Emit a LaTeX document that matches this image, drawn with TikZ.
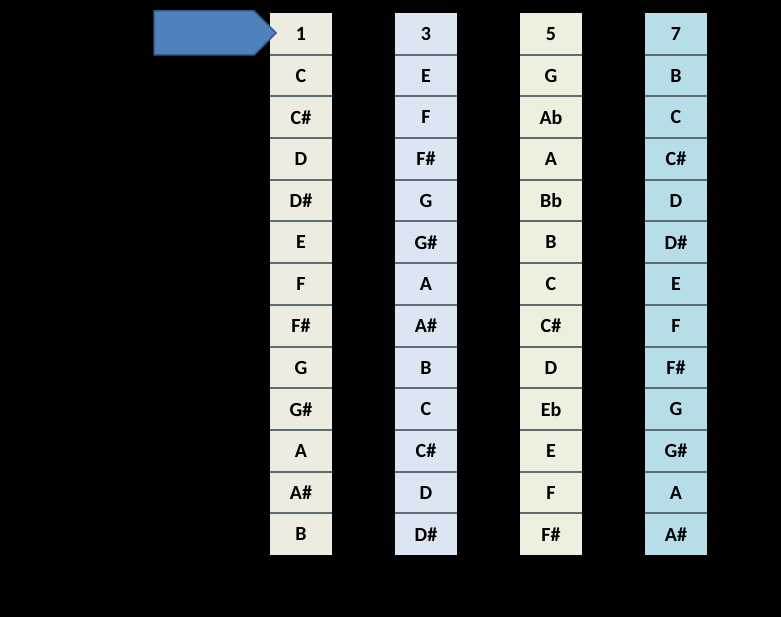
\documentclass[tikz,border=0pt]{standalone}
\usepackage{fontspec}
\setmainfont{Carlito}
\usetikzlibrary{shapes.arrows}
\definecolor{cA}{HTML}{EEECE1}
\definecolor{cB}{HTML}{DCE6F2}
\definecolor{cC}{HTML}{EBF1DE}
\definecolor{cD}{HTML}{B7DEE8}
\definecolor{sep}{HTML}{5F6B73}
\definecolor{arr}{HTML}{4F81BD}
\definecolor{arrb}{HTML}{385D8A}
\tikzset{cell/.style={minimum width=62pt,minimum height=41.7pt,inner sep=0pt,font=\fontsize{20}{22}\selectfont\bfseries,text=black}}
\begin{document}
\begin{tikzpicture}[x=1pt,y=-1pt]
\fill[black] (0,0) rectangle (781,617);
\useasboundingbox (0,0) rectangle (781,617);
\def\rows{{"1","2","3","4","5","6","7","8"},{"C","D","E","F","G","A","B","C"},{"C\#","D\#","F","Gb","Ab","Bb","C","C\#"},{"D","E","F\#","G","A","B","C\#","D"},{"D\#","F","G","Ab","Bb","C","D","D\#"},{"E","F\#","G\#","A","B","C\#","D\#","E"},{"F","G","A","Bb","C","D","E","F"},{"F\#","G\#","A\#","B","C\#","D\#","F","F\#"},{"G","A","B","C","D","E","F\#","G"},{"G\#","A\#","C","Db","Eb","F","G","G\#"},{"A","B","C\#","D","E","F\#","G\#","A"},{"A\#","C","D","Eb","F","G","A","A\#"},{"B","C\#","D\#","E","F\#","G\#","A\#","B"}}
\foreach \c/\col in {0/cA,2/cB,4/cC,6/cD}{
  \fill[\col] ({270+62.5*\c},13) rectangle ({332+62.5*\c},555);
  \foreach \r in {1,...,12}
    \draw[sep,line width=2pt] ({270+62.5*\c},{13+41.7*\r}) -- ({332+62.5*\c},{13+41.7*\r});
}
\node[cell] (h1) at (301,34) {1};
\node[cell] (h2) at (363.5,34) {2};
\node[cell] (h3) at (426,34) {3};
\node[cell] (h4) at (488.5,34) {4};
\node[cell] (h5) at (551,34) {5};
\node[cell] (h6) at (613.5,34) {6};
\node[cell] (h7) at (676,34) {7};
\node[cell] (h8) at (738.5,34) {8};
\newcommand{\nt}[3]{\node[cell] (n#1-#2) at ({301+62.5*(#2-1)},{34+41.7*#1}) {#3};}
\nt{1}{1}{C}\nt{1}{2}{D}\nt{1}{3}{E}\nt{1}{4}{F}\nt{1}{5}{G}\nt{1}{6}{A}\nt{1}{7}{B}\nt{1}{8}{C}
\nt{2}{1}{C\#}\nt{2}{2}{D\#}\nt{2}{3}{F}\nt{2}{4}{Gb}\nt{2}{5}{Ab}\nt{2}{6}{Bb}\nt{2}{7}{C}\nt{2}{8}{C\#}
\nt{3}{1}{D}\nt{3}{2}{E}\nt{3}{3}{F\#}\nt{3}{4}{G}\nt{3}{5}{A}\nt{3}{6}{B}\nt{3}{7}{C\#}\nt{3}{8}{D}
\nt{4}{1}{D\#}\nt{4}{2}{F}\nt{4}{3}{G}\nt{4}{4}{Ab}\nt{4}{5}{Bb}\nt{4}{6}{C}\nt{4}{7}{D}\nt{4}{8}{D\#}
\nt{5}{1}{E}\nt{5}{2}{F\#}\nt{5}{3}{G\#}\nt{5}{4}{A}\nt{5}{5}{B}\nt{5}{6}{C\#}\nt{5}{7}{D\#}\nt{5}{8}{E}
\nt{6}{1}{F}\nt{6}{2}{G}\nt{6}{3}{A}\nt{6}{4}{Bb}\nt{6}{5}{C}\nt{6}{6}{D}\nt{6}{7}{E}\nt{6}{8}{F}
\nt{7}{1}{F\#}\nt{7}{2}{G\#}\nt{7}{3}{A\#}\nt{7}{4}{B}\nt{7}{5}{C\#}\nt{7}{6}{D\#}\nt{7}{7}{F}\nt{7}{8}{F\#}
\nt{8}{1}{G}\nt{8}{2}{A}\nt{8}{3}{B}\nt{8}{4}{C}\nt{8}{5}{D}\nt{8}{6}{E}\nt{8}{7}{F\#}\nt{8}{8}{G}
\nt{9}{1}{G\#}\nt{9}{2}{A\#}\nt{9}{3}{C}\nt{9}{4}{Db}\nt{9}{5}{Eb}\nt{9}{6}{F}\nt{9}{7}{G}\nt{9}{8}{G\#}
\nt{10}{1}{A}\nt{10}{2}{B}\nt{10}{3}{C\#}\nt{10}{4}{D}\nt{10}{5}{E}\nt{10}{6}{F\#}\nt{10}{7}{G\#}\nt{10}{8}{A}
\nt{11}{1}{A\#}\nt{11}{2}{C}\nt{11}{3}{D}\nt{11}{4}{Eb}\nt{11}{5}{F}\nt{11}{6}{G}\nt{11}{7}{A}\nt{11}{8}{A\#}
\nt{12}{1}{B}\nt{12}{2}{C\#}\nt{12}{3}{D\#}\nt{12}{4}{E}\nt{12}{5}{F\#}\nt{12}{6}{G\#}\nt{12}{7}{A\#}\nt{12}{8}{B}
\node[font=\fontsize{22}{24}\selectfont,text=black] (grados) at (68,30) {GRADOS};
\node[single arrow,fill=arr,draw=arrb,line width=1.5pt,minimum width=44pt,single arrow head extend=0pt,
  single arrow head indent=0pt,minimum height=122pt,inner sep=0pt] (arrow) at (204,33) {};
\node[font=\fontsize{26}{28}\selectfont,text=black] (title) at (517,592) {Escala Mayor};
\end{tikzpicture}
\end{document}
